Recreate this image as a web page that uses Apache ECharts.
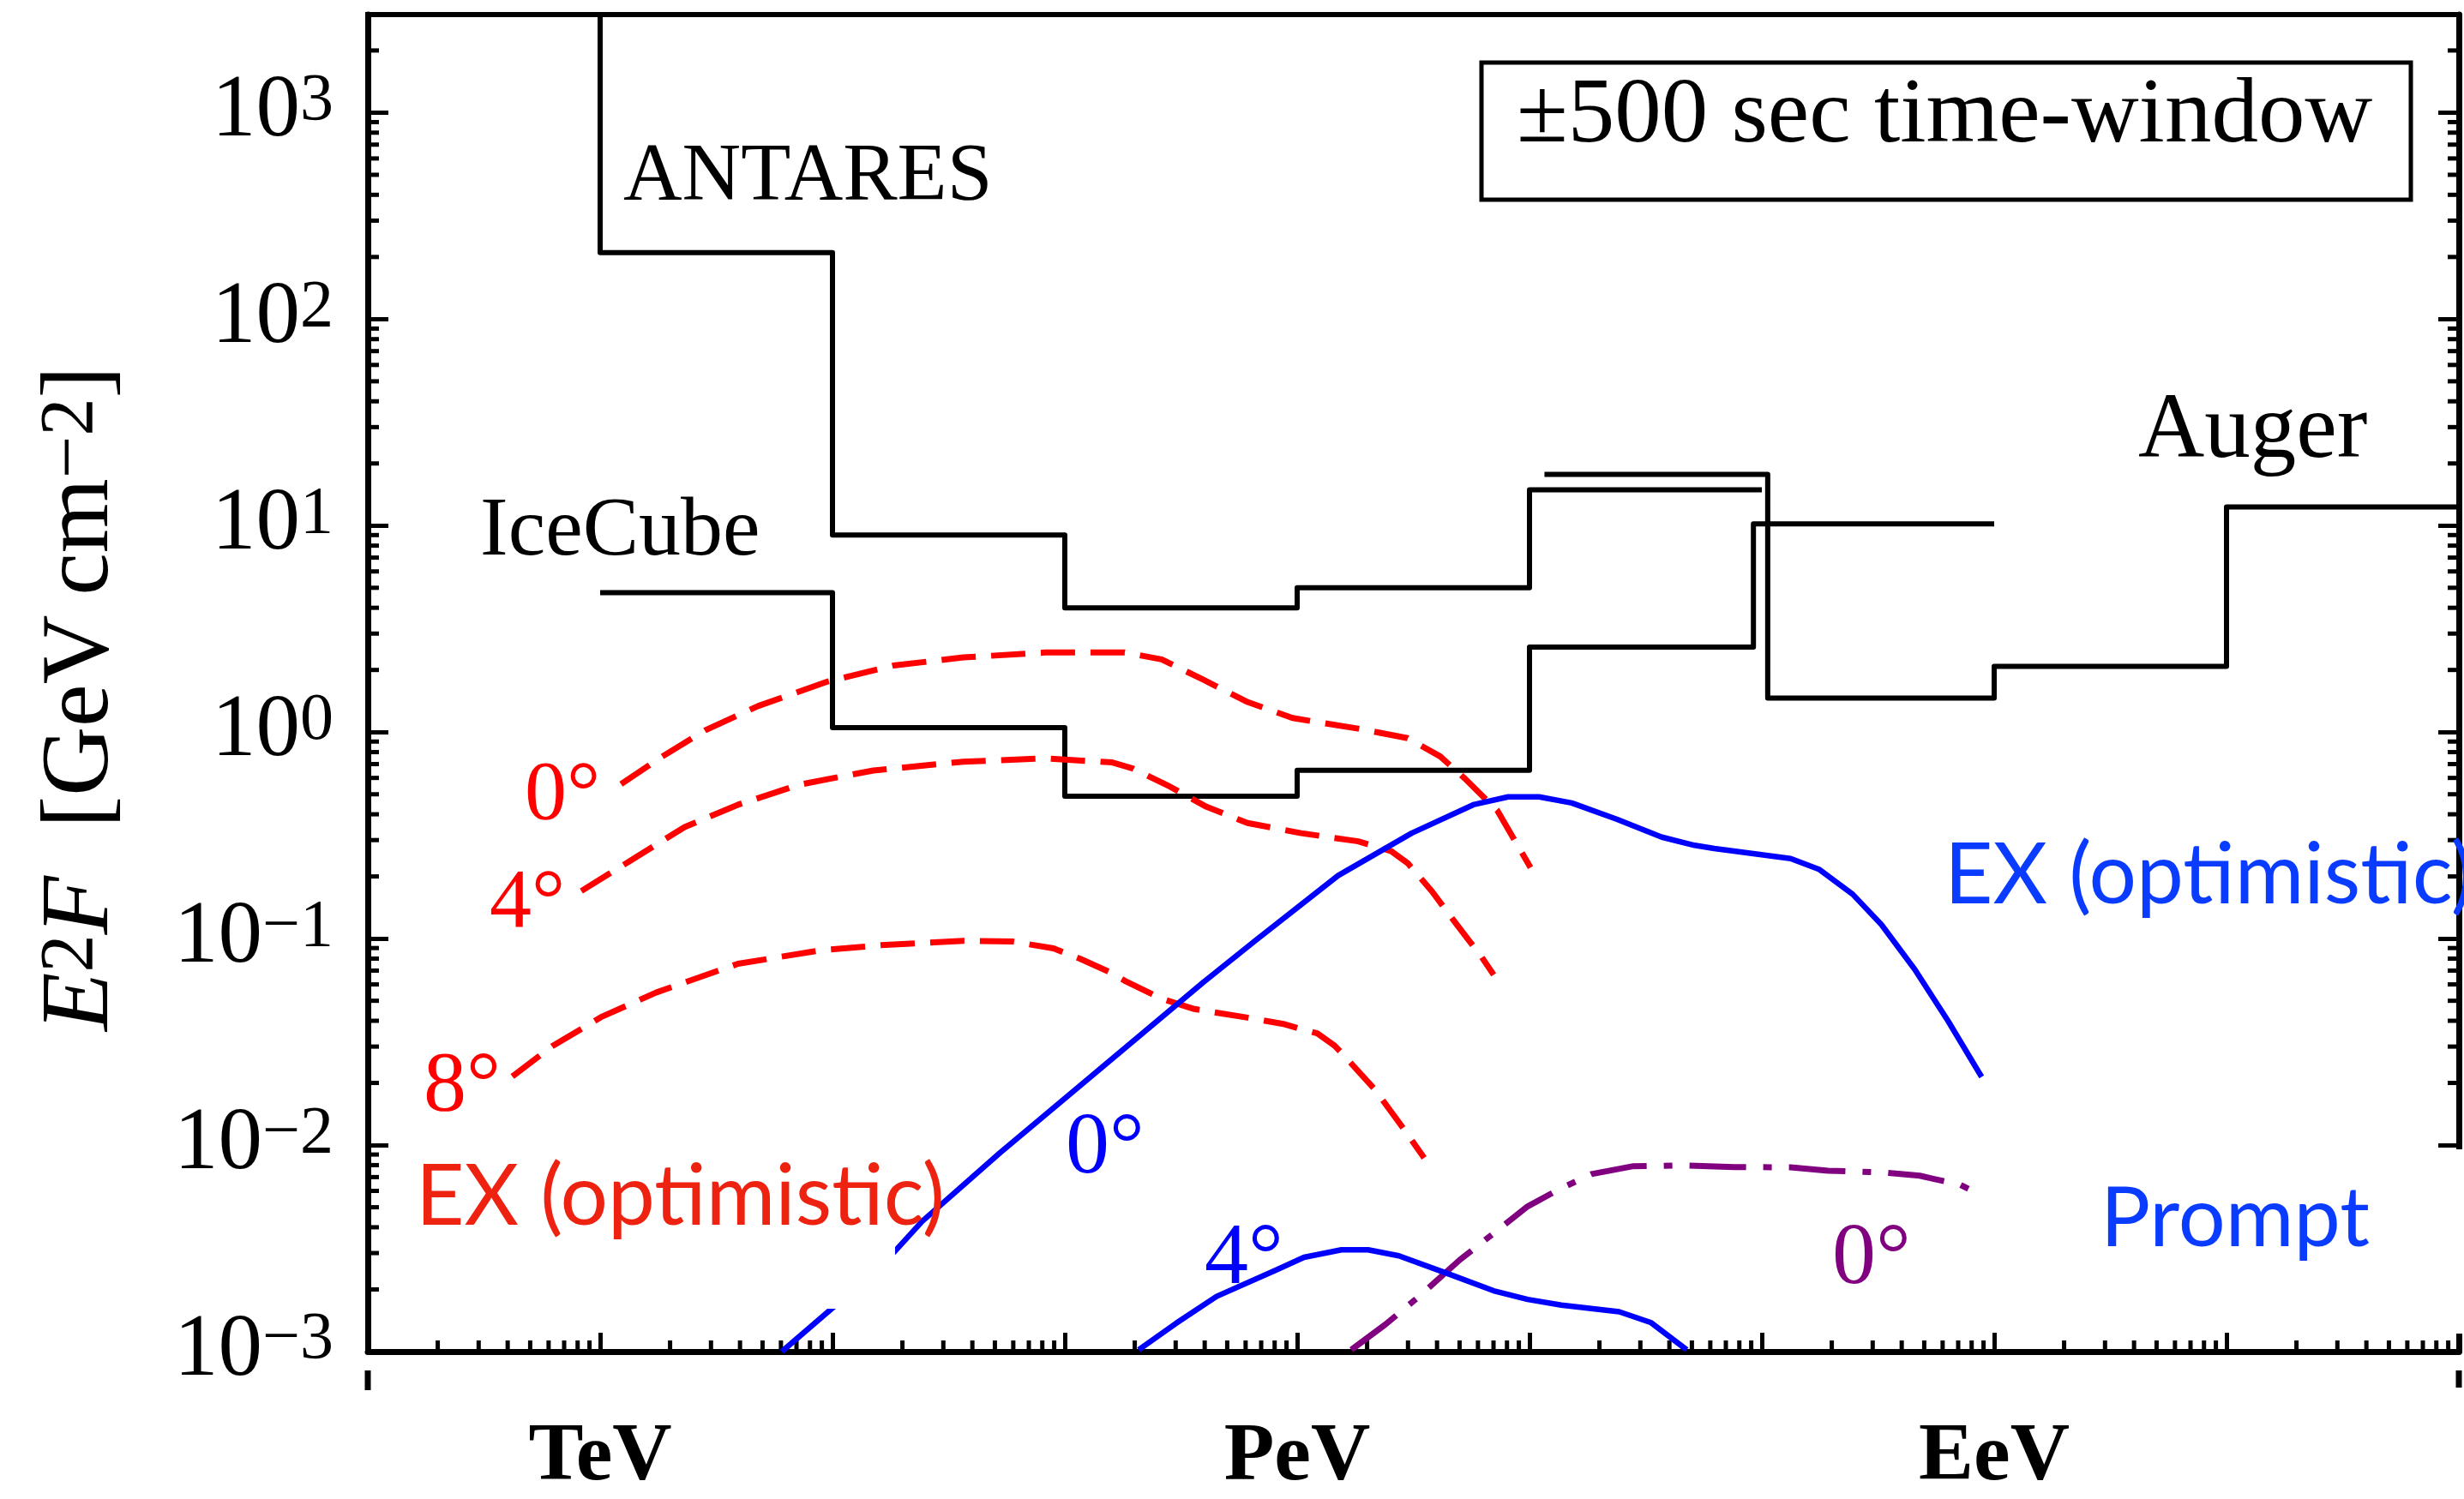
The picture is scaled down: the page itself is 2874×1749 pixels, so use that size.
<!DOCTYPE html>
<html>
<head>
<meta charset="utf-8">
<title>Neutrino fluence limits, ±500 s</title>
<script src="https://cdn.jsdelivr.net/npm/echarts@6/dist/echarts.min.js"></script>
<style>
  html, body { margin: 0; padding: 0; background: #ffffff; }
  #chart { width: 2874px; height: 1749px; }
</style>
</head>
<body>
<div id="chart"></div>
<script>
// Axis ranges: neutrino energy E in GeV, fluence E^2 F in GeV cm^-2
const E_MIN = 1e2, E_MAX = 1e11;
const F_MIN = 1e-3, F_MAX = 2985;

// Named decades on the energy axis, labelled decades on the fluence axis
const xTickNames = { 3: 'TeV', 6: 'PeV', 9: 'EeV' };
const yTickExponents = [-3, -2, -1, 0, 1, 2, 3];

// Upper limits, one value per energy bin (bin edges in GeV)
const antaresEdges  = [1e3, 1e4, 1e5, 1e6, 1e7, 1e8];
const antaresLimits = [210, 9.0, 4.0, 5.0, 14.9];
const icecubeEdges  = [1e3, 1e4, 1e5, 1e6, 1e7, 9.2e7, 1e9];
const icecubeLimits = [4.73, 1.05, 0.489, 0.653, 2.58, 10.2];
const augerEdges    = [1.16e7, 1.06e8, 1e9, 1e10, 1e11];
const augerLimits   = [17.7, 1.46, 2.08, 12.3];

// Extended emission (optimistic), viewing angle 0°, 4°, 8°  [E (GeV), E^2 F]
const exRed0 = [
  [1.23e3, 0.56], [1.81e3, 0.75], [2.83e3, 1.02], [4.80e3, 1.34], [9.57e3, 1.76],
  [1.83e4, 2.10], [3.66e4, 2.30], [8.26e4, 2.43], [1.81e5, 2.43], [2.61e5, 2.25],
  [3.92e5, 1.80], [6.11e5, 1.40], [9.55e5, 1.17], [1.83e6, 1.04], [2.99e6, 0.935],
  [4.13e6, 0.762], [5.27e6, 0.596], [7.28e6, 0.416], [1.01e7, 0.221]
];
const exRed4 = [
  [830, 0.170], [1.42e3, 0.247], [2.31e3, 0.347], [3.92e3, 0.445], [7.21e3, 0.557],
  [1.50e4, 0.652], [3.66e4, 0.719], [8.26e4, 0.746], [1.60e5, 0.713], [1.96e5, 0.667],
  [2.83e5, 0.545], [4.07e5, 0.435], [6.11e5, 0.363], [1.04e6, 0.324], [1.83e6, 0.296],
  [2.54e6, 0.265], [2.99e6, 0.232], [3.81e6, 0.169], [4.86e6, 0.117], [6.19e6, 0.0822],
  [7.01e6, 0.0668]
];
const exRed8 = [
  [419, 0.0215], [621, 0.0301], [1.01e3, 0.0417], [1.74e3, 0.0548], [3.92e3, 0.0755],
  [8.83e3, 0.0877], [1.62e4, 0.0929], [3.66e4, 0.0975], [5.94e4, 0.0968], [8.93e4, 0.0897],
  [1.16e5, 0.0800], [1.58e5, 0.0684], [1.81e5, 0.0625], [2.61e5, 0.0511], [3.61e5, 0.0456],
  [5.89e5, 0.0417], [8.83e5, 0.0385], [1.03e6, 0.0366], [1.22e6, 0.0348], [1.45e6, 0.0303],
  [1.56e6, 0.0278], [2.16e6, 0.0186], [2.92e6, 0.0117], [3.52e6, 0.00867]
];

// Extended emission (optimistic) on the second model, 0° and 4°
const exBlue0 = [
  [6.05e3, 0.00100], [1.22e4, 0.00197], [1.85e4, 0.00305], [2.43e4, 0.00427], [5.25e4, 0.00916],
  [1.03e5, 0.0173], [2.01e5, 0.0325], [3.94e5, 0.0614], [6.64e5, 0.0982], [1.50e6, 0.202],
  [3.11e6, 0.324], [5.73e6, 0.445], [8.09e6, 0.486], [1.10e7, 0.486], [1.52e7, 0.454],
  [2.37e7, 0.379], [3.71e7, 0.310], [5.13e7, 0.283], [6.24e7, 0.273], [1.33e8, 0.244],
  [1.77e8, 0.216], [2.46e8, 0.164], [3.27e8, 0.117], [4.55e8, 0.0710], [6.34e8, 0.0398],
  [8.83e8, 0.0214]
];
const exBlue4 = [
  [2.08e5, 0.00102], [3.01e5, 0.00137], [4.50e5, 0.00185], [8.17e5, 0.00249],
  [1.07e6, 0.00286], [1.55e6, 0.00311], [2.02e6, 0.00311], [2.74e6, 0.00291], [4.38e6, 0.00240],
  [7.01e6, 0.00197], [9.82e6, 0.00179], [1.37e7, 0.00168], [2.43e7, 0.00156], [3.34e7, 0.00138],
  [4.75e7, 0.00102]
];

// Prompt emission, 0°
const prompt0 = [
  [1.71e6, 0.00102], [2.39e6, 0.00135], [3.35e6, 0.00185], [5.01e6, 0.00278], [7.01e6, 0.00374],
  [9.82e6, 0.00505], [1.33e7, 0.00608], [1.85e7, 0.00724], [2.77e7, 0.00789], [4.59e7, 0.00798],
  [7.60e7, 0.00783], [1.33e8, 0.00780], [1.93e8, 0.00752], [3.30e8, 0.00738], [4.78e8, 0.00711],
  [5.46e8, 0.00687], [7.14e8, 0.00643], [8.39e8, 0.00586]
];

// Staircase path for a binned limit; optionally rising to the top of the frame at the first edge
function staircase(edges, limits, riseToTop) {
  const pts = [];
  if (riseToTop) pts.push([edges[0], F_MAX]);
  limits.forEach((v, i) => {
    pts.push([edges[i], v]);
    pts.push([edges[i + 1], v]);
  });
  return pts;
}

// Positions of the 2..9 minor ticks inside each decade
function minorTicks(lo, hi) {
  const out = [];
  for (let d = Math.floor(Math.log10(lo)); d <= Math.ceil(Math.log10(hi)); d++) {
    for (let k = 2; k <= 9; k++) {
      const v = k * Math.pow(10, d);
      if (v > lo && v < hi) out.push(v);
    }
  }
  return out;
}

const SERIF = '"Liberation Serif", "Times New Roman", serif';
const SANS = 'Lato, "Noto Sans", sans-serif';
const RED = '#ff0000', BLUE = '#0000ff', PURPLE = '#800080';
const LABEL_RED = '#ee2211', LABEL_BLUE = '#0a3cff';

function lineSeries(data, color, width, type, z) {
  return {
    type: 'line', data, symbol: 'none', showSymbol: false, silent: true,
    clip: true, z, animation: false,
    lineStyle: { color, width, type, cap: 'butt', join: 'round' }
  };
}

const chart = echarts.init(document.getElementById('chart'), null,
  { renderer: 'canvas', width: 2874, height: 1749 });

const yLabelFormatter = (v) => {
  const lg = Math.log10(v);
  const e = Math.round(lg);
  if (Math.abs(lg - e) > 1e-6 || yTickExponents.indexOf(e) < 0) return '';
  return '{b|10}{s|' + (e < 0 ? '\u2212' + (-e) : String(e)) + '}';
};

function serifText(text, x, y, size, color) {
  return {
    type: 'text', x, y, z: 60,
    style: { text, fill: color, font: size + 'px ' + SERIF, align: 'left', verticalAlign: 'middle' }
  };
}
function sansText(text, x, y, size, color) {
  return {
    type: 'text', x, y, z: 60,
    style: { text, fill: color, font: size + 'px ' + SANS, align: 'left', verticalAlign: 'middle' }
  };
}

const option = {
  backgroundColor: '#ffffff',
  animation: false,
  grid: {
    left: 429, top: 17, right: 6, bottom: 150,
    show: true, borderColor: '#000', borderWidth: 6, backgroundColor: 'transparent'
  },
  xAxis: {
    type: 'log', logBase: 10, min: E_MIN, max: E_MAX, splitNumber: 9,
    axisLine: { show: true, lineStyle: { color: '#000', width: 7 } },
    axisTick: { show: true, inside: true, length: 22, lineStyle: { color: '#000', width: 5 } },
    splitLine: { show: false },
    axisLabel: {
      margin: 76, color: '#000', fontFamily: SERIF, fontWeight: 'bold', fontSize: 96, lineHeight: 96,
      formatter: (v) => xTickNames[Math.round(Math.log10(v))] || ''
    }
  },
  yAxis: [
    {
      type: 'log', logBase: 10, min: F_MIN, max: F_MAX, splitNumber: 6, position: 'left',
      axisLine: { show: true, lineStyle: { color: '#000', width: 7 } },
      axisTick: { show: true, inside: true, length: 24, lineStyle: { color: '#000', width: 5 } },
      splitLine: { show: false },
      axisLabel: {
        margin: 40, color: '#000', formatter: yLabelFormatter,
        rich: {
          b: { fontFamily: SERIF, fontSize: 103, lineHeight: 104, color: '#000' },
          s: { fontFamily: SERIF, fontSize: 78, lineHeight: 46, verticalAlign: 'top', color: '#000' }
        }
      }
    },
    {
      type: 'log', logBase: 10, min: F_MIN, max: F_MAX, splitNumber: 6, position: 'right',
      axisLine: { show: true, lineStyle: { color: '#000', width: 7 } },
      axisTick: { show: true, inside: true, length: 24, lineStyle: { color: '#000', width: 5 } },
      splitLine: { show: false },
      axisLabel: { show: false }
    }
  ],
  series: [
    lineSeries(staircase(antaresEdges, antaresLimits, true), '#000', 6, 'solid', 2),
    lineSeries(staircase(icecubeEdges, icecubeLimits, false), '#000', 6, 'solid', 2),
    lineSeries(staircase(augerEdges, augerLimits, false), '#000', 6, 'solid', 2),
    lineSeries(exRed0, RED, 7, [40, 18], 3),
    lineSeries(exRed4, RED, 7, [40, 18], 3),
    lineSeries(exRed8, RED, 7, [40, 18], 3),
    lineSeries(prompt0, PURPLE, 7, [66, 20, 10, 20], 3),
    lineSeries(exBlue0, BLUE, 6.5, 'solid', 4),
    lineSeries(exBlue4, BLUE, 6.5, 'solid', 4),
    {
      // minor ticks on the energy axis
      type: 'custom', silent: true, clip: false, z: 1, animation: false,
      data: minorTicks(E_MIN, E_MAX).map((v) => [v, F_MIN]),
      renderItem: (params, api) => {
        const p = api.coord([api.value(0), F_MIN]);
        return { type: 'line', shape: { x1: p[0], y1: p[1], x2: p[0], y2: p[1] - 13 },
                 style: { stroke: '#000', lineWidth: 5 } };
      }
    },
    {
      // minor ticks on the left and right fluence axes
      type: 'custom', silent: true, clip: false, z: 1, animation: false,
      data: minorTicks(F_MIN, F_MAX).map((v) => [E_MIN, v]),
      renderItem: (params, api) => {
        const l = api.coord([E_MIN, api.value(1)]);
        const r = api.coord([E_MAX, api.value(1)]);
        return { type: 'group', children: [
          { type: 'line', shape: { x1: l[0], y1: l[1], x2: l[0] + 13, y2: l[1] }, style: { stroke: '#000', lineWidth: 5 } },
          { type: 'line', shape: { x1: r[0], y1: r[1], x2: r[0] - 13, y2: r[1] }, style: { stroke: '#000', lineWidth: 5 } }
        ] };
      }
    }
  ],
  graphic: { elements: [
    // label backgrounds
    { type: 'rect', z: 50, shape: { x: 480, y: 1340, width: 564, height: 187 }, style: { fill: '#fff' } },
    { type: 'rect', z: 50, shape: { x: 2835, y: 1341, width: 39, height: 215 }, style: { fill: '#fff' } },
    { type: 'rect', z: 50, shape: { x: 0, y: 1622, width: 420, height: 60 }, style: { fill: '#fff' } },
    // frame stubs below the energy axis
    { type: 'line', z: 50, shape: { x1: 429, y1: 1599, x2: 429, y2: 1622 }, style: { stroke: '#000', lineWidth: 7 } },
    { type: 'line', z: 50, shape: { x1: 2868, y1: 1599, x2: 2868, y2: 1619 }, style: { stroke: '#000', lineWidth: 7 } },
    // time-window box
    { type: 'rect', z: 55, shape: { x: 1728, y: 73, width: 1084, height: 160 },
      style: { fill: '#fff', stroke: '#000', lineWidth: 5 } },
    { type: 'text', z: 60, x: 2268, y: 136,
      style: { text: '\u00b1500 sec time-window', fill: '#000', font: '109px ' + SERIF, align: 'center', verticalAlign: 'middle' } },
    // experiment names
    serifText('ANTARES', 727, 208, 95, '#000'),
    serifText('IceCube', 560, 621, 98, '#000'),
    serifText('Auger', 2494, 505, 107, '#000'),
    // viewing angles
    serifText('0\u00b0', 612, 929, 98, RED),
    serifText('4\u00b0', 571, 1055, 98, RED),
    serifText('8\u00b0', 494, 1269, 100, RED),
    serifText('0\u00b0', 1243, 1341, 102, BLUE),
    serifText('4\u00b0', 1405, 1470, 102, BLUE),
    serifText('0\u00b0', 2137, 1470, 102, PURPLE),
    // model names
    sansText('EX (optimistic)', 485, 1397, 98, LABEL_RED),
    sansText('EX (optimistic)', 2268, 1022, 98, LABEL_BLUE),
    sansText('Prompt', 2450, 1423, 97, LABEL_BLUE),
    // fluence axis title
    { type: 'text', z: 60, x: 96, y: 815, rotation: Math.PI / 2,
      style: {
        text: '{i|E}{s|2}{i|F}{r|  [GeV\u2009cm}{s|\u22122}{r|]}',
        align: 'center', verticalAlign: 'middle',
        rich: {
          i: { fontFamily: SERIF, fontStyle: 'italic', fontSize: 112, lineHeight: 112, fill: '#000' },
          r: { fontFamily: SERIF, fontSize: 112, lineHeight: 112, fill: '#000' },
          s: { fontFamily: SERIF, fontSize: 88, lineHeight: 46, verticalAlign: 'top', fill: '#000' }
        }
      } }
  ] }
};

chart.setOption(option);
</script>
</body>
</html>
